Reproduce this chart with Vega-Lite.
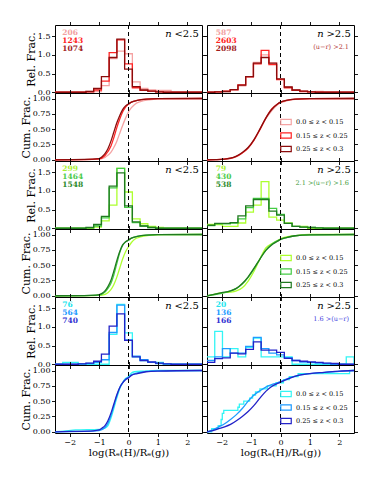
{
"$schema":"https://vega.github.io/schema/vega-lite/v6.json",
"background":"white",
"padding":{"left":19,"top":20,"right":5,"bottom":5},
"config":{
 "view":{"stroke":"black","strokeWidth":1},
 "axis":{"domain":false,"grid":false,"tickColor":"black","tickSize":3.5,"tickWidth":0.9,"labelFont":"DejaVu Serif","labelFontSize":8,"labelColor":"black","labelPadding":1.5,"titleFont":"DejaVu Serif","titleFontSize":11,"titleFontWeight":"normal","titleColor":"black","titlePadding":1},
 "legend":{"orient":"bottom-right","offset":6,"padding":0,"labelFont":"DejaVu Serif","labelFontSize":6.5,"labelColor":"black","symbolType":"M-1,-0.5H1V0.5H-1Z","symbolSize":110,"symbolStrokeWidth":1.2,"symbolFillColor":"transparent","rowPadding":1.5,"labelOffset":4},
 "text":{"font":"DejaVu Serif","baseline":"middle"}
},
"datasets":{
"hist":[
{"x":-2.5,"rL1":0,"rL2":0,"rL3":0,"rR1":0,"rR2":0,"rR3":0,"gL1":0,"gL2":0,"gL3":0,"gR1":0.1,"gR2":0.07,"gR3":0.08,"bL1":0,"bL2":0,"bL3":0,"bR1":0.2,"bR2":0.1,"bR3":0.05},
{"x":-2.2368,"rL1":0,"rL2":0,"rL3":0,"rR1":0.01,"rR2":0.01,"rR3":0.01,"gL1":0,"gL2":0,"gL3":0,"gR1":0.1,"gR2":0.12,"gR3":0.13,"bL1":0.05,"bL2":0,"bL3":0,"bR1":0.88,"bR2":0.2,"bR3":0.15},
{"x":-1.9737,"rL1":0,"rL2":0,"rL3":0,"rR1":0.02,"rR2":0.03,"rR3":0.02,"gL1":0,"gL2":0,"gL3":0,"gR1":0.05,"gR2":0.12,"gR3":0.13,"bL1":0.05,"bL2":0,"bL3":0,"bR1":0.2,"bR2":0.42,"bR3":0.17},
{"x":-1.7105,"rL1":0,"rL2":0,"rL3":0,"rR1":0.06,"rR2":0.07,"rR3":0.07,"gL1":0,"gL2":0,"gL3":0,"gR1":0.05,"gR2":0.14,"gR3":0.15,"bL1":0,"bL2":0.01,"bL3":0.01,"bR1":0.42,"bR2":0.3,"bR3":0.3},
{"x":-1.4474,"rL1":0.02,"rL2":0.01,"rL3":0.02,"rR1":0.17,"rR2":0.2,"rR3":0.19,"gL1":0,"gL2":0.01,"gL3":0.02,"gR1":0.14,"gR2":0.25,"gR3":0.33,"bL1":0,"bL2":0.02,"bL3":0.03,"bR1":0.2,"bR2":0.3,"bR3":0.28},
{"x":-1.1842,"rL1":0.02,"rL2":0.06,"rL3":0.1,"rR1":0.4,"rR2":0.42,"rR3":0.42,"gL1":0.03,"gL2":0.06,"gL3":0.1,"gR1":0.43,"gR2":0.55,"gR3":0.6,"bL1":0,"bL2":0.05,"bL3":0.08,"bR1":0.45,"bR2":0.48,"bR3":0.4},
{"x":-0.9211,"rL1":0.18,"rL2":0.3,"rL3":0.42,"rR1":0.8,"rR2":0.76,"rR3":0.78,"gL1":0.2,"gL2":0.28,"gL3":0.32,"gR1":0.62,"gR2":0.8,"gR3":0.77,"bL1":0,"bL2":0.12,"bL3":0.27,"bR1":0.7,"bR2":0.72,"bR3":0.6},
{"x":-0.6579,"rL1":0.9,"rL2":1.06,"rL3":0.93,"rR1":1.0,"rR2":1.12,"rR3":0.93,"gL1":0.62,"gL2":1.08,"gL3":1.13,"gR1":1.25,"gR2":0.8,"gR3":0.77,"bL1":0.8,"bL2":0.85,"bL3":1.02,"bR1":0.2,"bR2":0.42,"bR3":0.38},
{"x":-0.3947,"rL1":1.1,"rL2":1.4,"rL3":1.42,"rR1":0.78,"rR2":0.74,"rR3":0.78,"gL1":1.6,"gL2":1.6,"gL3":1.48,"gR1":0.3,"gR2":0.53,"gR3":0.46,"bL1":1.6,"bL2":1.58,"bL3":1.35,"bR1":0.2,"bR2":0.3,"bR3":0.38},
{"x":-0.1316,"rL1":1.03,"rL2":0.76,"rL3":0.62,"rR1":0.35,"rR2":0.34,"rR3":0.36,"gL1":0.97,"gL2":0.56,"gL3":0.6,"gR1":0.22,"gR2":0.37,"gR3":0.35,"bL1":0.84,"bL2":0.65,"bL3":0.64,"bR1":0.2,"bR2":0.25,"bR3":0.32},
{"x":0.1316,"rL1":0.28,"rL2":0.12,"rL3":0.15,"rR1":0.14,"rR2":0.12,"rR3":0.14,"gL1":0.25,"gL2":0.15,"gL3":0.17,"gR1":0.14,"gR2":0.13,"gR3":0.13,"bL1":0.2,"bL2":0.22,"bL3":0.2,"bR1":0.2,"bR2":0.18,"bR3":0.16},
{"x":0.3947,"rL1":0.1,"rL2":0.05,"rL3":0.06,"rR1":0.06,"rR2":0.05,"rR3":0.06,"gL1":0.12,"gL2":0.06,"gL3":0.06,"gR1":0.05,"gR2":0.05,"gR3":0.05,"bL1":0.1,"bL2":0.12,"bL3":0.1,"bR1":0,"bR2":0.1,"bR3":0.1},
{"x":0.6579,"rL1":0.06,"rL2":0.03,"rL3":0.03,"rR1":0.03,"rR2":0.02,"rR3":0.03,"gL1":0.05,"gL2":0.02,"gL3":0.02,"gR1":0.05,"gR2":0.03,"gR3":0.03,"bL1":0.05,"bL2":0.05,"bL3":0.06,"bR1":0,"bR2":0.06,"bR3":0.08},
{"x":0.9211,"rL1":0.05,"rL2":0.01,"rL3":0.01,"rR1":0.01,"rR2":0.01,"rR3":0.01,"gL1":0.02,"gL2":0,"gL3":0,"gR1":0,"gR2":0.02,"gR3":0.02,"bL1":0.05,"bL2":0.02,"bL3":0.03,"bR1":0,"bR2":0.05,"bR3":0.06},
{"x":1.1842,"rL1":0.05,"rL2":0,"rL3":0,"rR1":0.02,"rR2":0,"rR3":0,"gL1":0,"gL2":0,"gL3":0,"gR1":0,"gR2":0.01,"gR3":0.01,"bL1":0,"bL2":0.01,"bL3":0.01,"bR1":0,"bR2":0.03,"bR3":0.05},
{"x":1.4474,"rL1":0,"rL2":0,"rL3":0,"rR1":0,"rR2":0,"rR3":0,"gL1":0,"gL2":0,"gL3":0,"gR1":0,"gR2":0,"gR3":0,"bL1":0,"bL2":0,"bL3":0,"bR1":0,"bR2":0.02,"bR3":0.03},
{"x":1.7105,"rL1":0,"rL2":0,"rL3":0,"rR1":0,"rR2":0,"rR3":0,"gL1":0,"gL2":0,"gL3":0,"gR1":0,"gR2":0,"gR3":0,"bL1":0,"bL2":0,"bL3":0,"bR1":0,"bR2":0,"bR3":0.02},
{"x":1.9737,"rL1":0,"rL2":0,"rL3":0,"rR1":0,"rR2":0,"rR3":0,"gL1":0,"gL2":0,"gL3":0,"gR1":0,"gR2":0,"gR3":0,"bL1":0,"bL2":0,"bL3":0,"bR1":0,"bR2":0,"bR3":0},
{"x":2.2368,"rL1":0,"rL2":0,"rL3":0,"rR1":0,"rR2":0,"rR3":0,"gL1":0,"gL2":0,"gL3":0,"gR1":0,"gR2":0,"gR3":0,"bL1":0,"bL2":0,"bL3":0,"bR1":0.2,"bR2":0,"bR3":0},
{"x":2.5,"rL1":0,"rL2":0,"rL3":0,"rR1":0,"rR2":0,"rR3":0,"gL1":0,"gL2":0,"gL3":0,"gR1":0,"gR2":0,"gR3":0,"bL1":0,"bL2":0,"bL3":0,"bR1":0,"bR2":0,"bR3":0}
],
"cum":[
{"p":"rL1","x":-2.5,"c":0},{"p":"rL1","x":-1.5,"c":0.003},{"p":"rL1","x":-1.0,"c":0.01},{"p":"rL1","x":-0.8,"c":0.04},{"p":"rL1","x":-0.6,"c":0.12},{"p":"rL1","x":-0.5,"c":0.2},{"p":"rL1","x":-0.4,"c":0.3},{"p":"rL1","x":-0.3,"c":0.43},{"p":"rL1","x":-0.2,"c":0.56},{"p":"rL1","x":-0.1,"c":0.68},{"p":"rL1","x":0,"c":0.78},{"p":"rL1","x":0.1,"c":0.85},{"p":"rL1","x":0.2,"c":0.9},{"p":"rL1","x":0.4,"c":0.95},{"p":"rL1","x":0.7,"c":0.98},{"p":"rL1","x":1.2,"c":0.995},{"p":"rL1","x":2.5,"c":1},
{"p":"rL2","x":-2.5,"c":0},{"p":"rL2","x":-1.5,"c":0.003},{"p":"rL2","x":-1.0,"c":0.015},{"p":"rL2","x":-0.8,"c":0.07},{"p":"rL2","x":-0.6,"c":0.22},{"p":"rL2","x":-0.5,"c":0.36},{"p":"rL2","x":-0.4,"c":0.52},{"p":"rL2","x":-0.3,"c":0.66},{"p":"rL2","x":-0.2,"c":0.78},{"p":"rL2","x":-0.1,"c":0.86},{"p":"rL2","x":0,"c":0.91},{"p":"rL2","x":0.1,"c":0.94},{"p":"rL2","x":0.3,"c":0.97},{"p":"rL2","x":0.6,"c":0.99},{"p":"rL2","x":1.0,"c":0.997},{"p":"rL2","x":2.5,"c":1},
{"p":"rL3","x":-2.5,"c":0},{"p":"rL3","x":-1.5,"c":0.005},{"p":"rL3","x":-1.0,"c":0.02},{"p":"rL3","x":-0.9,"c":0.05},{"p":"rL3","x":-0.8,"c":0.1},{"p":"rL3","x":-0.7,"c":0.18},{"p":"rL3","x":-0.6,"c":0.3},{"p":"rL3","x":-0.5,"c":0.45},{"p":"rL3","x":-0.4,"c":0.6},{"p":"rL3","x":-0.3,"c":0.72},{"p":"rL3","x":-0.2,"c":0.82},{"p":"rL3","x":-0.1,"c":0.88},{"p":"rL3","x":0,"c":0.91},{"p":"rL3","x":0.1,"c":0.94},{"p":"rL3","x":0.3,"c":0.97},{"p":"rL3","x":0.6,"c":0.99},{"p":"rL3","x":1.0,"c":0.997},{"p":"rL3","x":2.5,"c":1},
{"p":"rR1","x":-2.5,"c":0},{"p":"rR1","x":-2.2,"c":0.003},{"p":"rR1","x":-1.9,"c":0.01},{"p":"rR1","x":-1.7,"c":0.02},{"p":"rR1","x":-1.5,"c":0.05},{"p":"rR1","x":-1.3,"c":0.11},{"p":"rR1","x":-1.1,"c":0.2},{"p":"rR1","x":-0.9,"c":0.33},{"p":"rR1","x":-0.7,"c":0.5},{"p":"rR1","x":-0.5,"c":0.67},{"p":"rR1","x":-0.3,"c":0.8},{"p":"rR1","x":-0.1,"c":0.9},{"p":"rR1","x":0,"c":0.93},{"p":"rR1","x":0.2,"c":0.96},{"p":"rR1","x":0.5,"c":0.985},{"p":"rR1","x":1.0,"c":0.995},{"p":"rR1","x":2.5,"c":1},
{"p":"rR2","x":-2.5,"c":0},{"p":"rR2","x":-2.2,"c":0.003},{"p":"rR2","x":-1.9,"c":0.012},{"p":"rR2","x":-1.7,"c":0.025},{"p":"rR2","x":-1.5,"c":0.055},{"p":"rR2","x":-1.3,"c":0.11},{"p":"rR2","x":-1.1,"c":0.19},{"p":"rR2","x":-0.9,"c":0.32},{"p":"rR2","x":-0.7,"c":0.49},{"p":"rR2","x":-0.5,"c":0.68},{"p":"rR2","x":-0.3,"c":0.83},{"p":"rR2","x":-0.1,"c":0.91},{"p":"rR2","x":0,"c":0.94},{"p":"rR2","x":0.2,"c":0.97},{"p":"rR2","x":0.5,"c":0.99},{"p":"rR2","x":1.0,"c":0.997},{"p":"rR2","x":2.5,"c":1},
{"p":"rR3","x":-2.5,"c":0},{"p":"rR3","x":-2.2,"c":0.003},{"p":"rR3","x":-1.9,"c":0.01},{"p":"rR3","x":-1.7,"c":0.025},{"p":"rR3","x":-1.5,"c":0.06},{"p":"rR3","x":-1.3,"c":0.12},{"p":"rR3","x":-1.1,"c":0.2},{"p":"rR3","x":-0.9,"c":0.33},{"p":"rR3","x":-0.7,"c":0.5},{"p":"rR3","x":-0.5,"c":0.68},{"p":"rR3","x":-0.3,"c":0.82},{"p":"rR3","x":-0.1,"c":0.91},{"p":"rR3","x":0,"c":0.94},{"p":"rR3","x":0.2,"c":0.97},{"p":"rR3","x":0.5,"c":0.99},{"p":"rR3","x":1.0,"c":0.997},{"p":"rR3","x":2.5,"c":1},
{"p":"gL1","x":-2.5,"c":0},{"p":"gL1","x":-1.2,"c":0.003},{"p":"gL1","x":-0.9,"c":0.01},{"p":"gL1","x":-0.7,"c":0.05},{"p":"gL1","x":-0.6,"c":0.1},{"p":"gL1","x":-0.5,"c":0.18},{"p":"gL1","x":-0.4,"c":0.3},{"p":"gL1","x":-0.3,"c":0.45},{"p":"gL1","x":-0.2,"c":0.6},{"p":"gL1","x":-0.1,"c":0.72},{"p":"gL1","x":0,"c":0.8},{"p":"gL1","x":0.1,"c":0.87},{"p":"gL1","x":0.2,"c":0.92},{"p":"gL1","x":0.4,"c":0.96},{"p":"gL1","x":0.7,"c":0.985},{"p":"gL1","x":1.2,"c":0.997},{"p":"gL1","x":2.5,"c":1},
{"p":"gL2","x":-2.5,"c":0},{"p":"gL2","x":-1.5,"c":0.002},{"p":"gL2","x":-1.0,"c":0.01},{"p":"gL2","x":-0.8,"c":0.06},{"p":"gL2","x":-0.7,"c":0.12},{"p":"gL2","x":-0.6,"c":0.2},{"p":"gL2","x":-0.5,"c":0.34},{"p":"gL2","x":-0.4,"c":0.52},{"p":"gL2","x":-0.3,"c":0.7},{"p":"gL2","x":-0.2,"c":0.82},{"p":"gL2","x":-0.1,"c":0.88},{"p":"gL2","x":0,"c":0.91},{"p":"gL2","x":0.1,"c":0.94},{"p":"gL2","x":0.3,"c":0.97},{"p":"gL2","x":0.6,"c":0.99},{"p":"gL2","x":1.0,"c":0.997},{"p":"gL2","x":2.5,"c":1},
{"p":"gL3","x":-2.5,"c":0},{"p":"gL3","x":-1.5,"c":0.003},{"p":"gL3","x":-1.1,"c":0.01},{"p":"gL3","x":-0.9,"c":0.04},{"p":"gL3","x":-0.8,"c":0.08},{"p":"gL3","x":-0.7,"c":0.15},{"p":"gL3","x":-0.6,"c":0.25},{"p":"gL3","x":-0.5,"c":0.4},{"p":"gL3","x":-0.4,"c":0.57},{"p":"gL3","x":-0.3,"c":0.72},{"p":"gL3","x":-0.2,"c":0.83},{"p":"gL3","x":-0.1,"c":0.88},{"p":"gL3","x":0,"c":0.91},{"p":"gL3","x":0.1,"c":0.94},{"p":"gL3","x":0.3,"c":0.97},{"p":"gL3","x":0.6,"c":0.99},{"p":"gL3","x":1.0,"c":0.997},{"p":"gL3","x":2.5,"c":1},
{"p":"gR1","x":-2.5,"c":0},{"p":"gR1","x":-2.3,"c":0.02},{"p":"gR1","x":-2.0,"c":0.05},{"p":"gR1","x":-1.7,"c":0.06},{"p":"gR1","x":-1.5,"c":0.08},{"p":"gR1","x":-1.3,"c":0.13},{"p":"gR1","x":-1.1,"c":0.24},{"p":"gR1","x":-0.9,"c":0.4},{"p":"gR1","x":-0.7,"c":0.6},{"p":"gR1","x":-0.5,"c":0.78},{"p":"gR1","x":-0.3,"c":0.85},{"p":"gR1","x":-0.1,"c":0.9},{"p":"gR1","x":0,"c":0.93},{"p":"gR1","x":0.2,"c":0.96},{"p":"gR1","x":0.5,"c":0.98},{"p":"gR1","x":1.0,"c":1},{"p":"gR1","x":2.5,"c":1},
{"p":"gR2","x":-2.5,"c":0},{"p":"gR2","x":-2.3,"c":0.015},{"p":"gR2","x":-2.0,"c":0.04},{"p":"gR2","x":-1.7,"c":0.08},{"p":"gR2","x":-1.5,"c":0.12},{"p":"gR2","x":-1.3,"c":0.19},{"p":"gR2","x":-1.1,"c":0.3},{"p":"gR2","x":-0.9,"c":0.44},{"p":"gR2","x":-0.7,"c":0.6},{"p":"gR2","x":-0.5,"c":0.74},{"p":"gR2","x":-0.3,"c":0.84},{"p":"gR2","x":-0.1,"c":0.9},{"p":"gR2","x":0,"c":0.92},{"p":"gR2","x":0.2,"c":0.95},{"p":"gR2","x":0.5,"c":0.98},{"p":"gR2","x":1.0,"c":0.995},{"p":"gR2","x":2.5,"c":1},
{"p":"gR3","x":-2.5,"c":0},{"p":"gR3","x":-2.3,"c":0.02},{"p":"gR3","x":-2.0,"c":0.05},{"p":"gR3","x":-1.7,"c":0.08},{"p":"gR3","x":-1.5,"c":0.12},{"p":"gR3","x":-1.3,"c":0.2},{"p":"gR3","x":-1.1,"c":0.31},{"p":"gR3","x":-0.9,"c":0.45},{"p":"gR3","x":-0.7,"c":0.6},{"p":"gR3","x":-0.5,"c":0.74},{"p":"gR3","x":-0.3,"c":0.83},{"p":"gR3","x":-0.1,"c":0.89},{"p":"gR3","x":0,"c":0.92},{"p":"gR3","x":0.2,"c":0.95},{"p":"gR3","x":0.5,"c":0.98},{"p":"gR3","x":1.0,"c":0.995},{"p":"gR3","x":2.5,"c":1},
{"p":"bL1","x":-2.5,"c":0},{"p":"bL1","x":-2.2,"c":0.01},{"p":"bL1","x":-1.8,"c":0.03},{"p":"bL1","x":-1.0,"c":0.04},{"p":"bL1","x":-0.8,"c":0.06},{"p":"bL1","x":-0.7,"c":0.1},{"p":"bL1","x":-0.6,"c":0.22},{"p":"bL1","x":-0.5,"c":0.38},{"p":"bL1","x":-0.4,"c":0.55},{"p":"bL1","x":-0.3,"c":0.7},{"p":"bL1","x":-0.2,"c":0.8},{"p":"bL1","x":-0.1,"c":0.87},{"p":"bL1","x":0,"c":0.9},{"p":"bL1","x":0.1,"c":0.96},{"p":"bL1","x":0.2,"c":0.98},{"p":"bL1","x":0.5,"c":0.99},{"p":"bL1","x":1.0,"c":1},{"p":"bL1","x":2.5,"c":1},
{"p":"bL2","x":-2.5,"c":0},{"p":"bL2","x":-1.5,"c":0.005},{"p":"bL2","x":-1.0,"c":0.02},{"p":"bL2","x":-0.8,"c":0.07},{"p":"bL2","x":-0.7,"c":0.14},{"p":"bL2","x":-0.6,"c":0.26},{"p":"bL2","x":-0.5,"c":0.42},{"p":"bL2","x":-0.4,"c":0.58},{"p":"bL2","x":-0.3,"c":0.72},{"p":"bL2","x":-0.2,"c":0.8},{"p":"bL2","x":-0.1,"c":0.86},{"p":"bL2","x":0,"c":0.89},{"p":"bL2","x":0.1,"c":0.93},{"p":"bL2","x":0.3,"c":0.96},{"p":"bL2","x":0.6,"c":0.985},{"p":"bL2","x":1.0,"c":0.995},{"p":"bL2","x":2.5,"c":1},
{"p":"bL3","x":-2.5,"c":0},{"p":"bL3","x":-2.0,"c":0.005},{"p":"bL3","x":-1.2,"c":0.015},{"p":"bL3","x":-1.0,"c":0.03},{"p":"bL3","x":-0.9,"c":0.06},{"p":"bL3","x":-0.8,"c":0.1},{"p":"bL3","x":-0.7,"c":0.18},{"p":"bL3","x":-0.6,"c":0.3},{"p":"bL3","x":-0.5,"c":0.45},{"p":"bL3","x":-0.4,"c":0.6},{"p":"bL3","x":-0.3,"c":0.72},{"p":"bL3","x":-0.2,"c":0.8},{"p":"bL3","x":-0.1,"c":0.85},{"p":"bL3","x":0,"c":0.88},{"p":"bL3","x":0.1,"c":0.92},{"p":"bL3","x":0.3,"c":0.95},{"p":"bL3","x":0.6,"c":0.98},{"p":"bL3","x":1.0,"c":0.99},{"p":"bL3","x":2.5,"c":1},
{"p":"bR1","x":-2.5,"c":0},{"p":"bR1","x":-2.34,"c":0.05},{"p":"bR1","x":-2.12,"c":0.1},{"p":"bR1","x":-2.02,"c":0.2},{"p":"bR1","x":-1.98,"c":0.3},{"p":"bR1","x":-1.93,"c":0.35},{"p":"bR1","x":-1.45,"c":0.4},{"p":"bR1","x":-1.4,"c":0.45},{"p":"bR1","x":-1.25,"c":0.5},{"p":"bR1","x":-1.05,"c":0.55},{"p":"bR1","x":-0.95,"c":0.6},{"p":"bR1","x":-0.85,"c":0.65},{"p":"bR1","x":-0.7,"c":0.7},{"p":"bR1","x":-0.45,"c":0.75},{"p":"bR1","x":-0.15,"c":0.8},{"p":"bR1","x":0.1,"c":0.85},{"p":"bR1","x":0.3,"c":0.9},{"p":"bR1","x":0.6,"c":0.95},{"p":"bR1","x":2.35,"c":1},{"p":"bR1","x":2.5,"c":1},
{"p":"bR2","x":-2.5,"c":0},{"p":"bR2","x":-2.3,"c":0.03},{"p":"bR2","x":-2.1,"c":0.08},{"p":"bR2","x":-1.9,"c":0.13},{"p":"bR2","x":-1.7,"c":0.2},{"p":"bR2","x":-1.5,"c":0.28},{"p":"bR2","x":-1.3,"c":0.38},{"p":"bR2","x":-1.1,"c":0.5},{"p":"bR2","x":-0.9,"c":0.6},{"p":"bR2","x":-0.7,"c":0.67},{"p":"bR2","x":-0.5,"c":0.73},{"p":"bR2","x":-0.3,"c":0.77},{"p":"bR2","x":-0.1,"c":0.8},{"p":"bR2","x":0,"c":0.82},{"p":"bR2","x":0.3,"c":0.88},{"p":"bR2","x":0.6,"c":0.92},{"p":"bR2","x":1.0,"c":0.95},{"p":"bR2","x":1.5,"c":0.97},{"p":"bR2","x":2.0,"c":0.985},{"p":"bR2","x":2.5,"c":1},
{"p":"bR3","x":-2.5,"c":0},{"p":"bR3","x":-2.3,"c":0.02},{"p":"bR3","x":-2.1,"c":0.05},{"p":"bR3","x":-1.9,"c":0.08},{"p":"bR3","x":-1.7,"c":0.12},{"p":"bR3","x":-1.5,"c":0.18},{"p":"bR3","x":-1.3,"c":0.25},{"p":"bR3","x":-1.1,"c":0.33},{"p":"bR3","x":-0.9,"c":0.43},{"p":"bR3","x":-0.7,"c":0.55},{"p":"bR3","x":-0.5,"c":0.66},{"p":"bR3","x":-0.3,"c":0.74},{"p":"bR3","x":-0.1,"c":0.79},{"p":"bR3","x":0,"c":0.81},{"p":"bR3","x":0.3,"c":0.87},{"p":"bR3","x":0.6,"c":0.92},{"p":"bR3","x":1.0,"c":0.95},{"p":"bR3","x":1.5,"c":0.97},{"p":"bR3","x":2.0,"c":0.99},{"p":"bR3","x":2.5,"c":1}
]
},
"spacing":-8,
"resolve":{"scale":{"stroke":"independent"}},
"hconcat":[
{"vconcat":[
 {"width":147,"height":68,"resolve":{"axis":{"x":"independent","y":"independent"}},"layer":[
  {"data":{"name":"hist"},"transform":[{"fold":["rL1","rL2","rL3"],"as":["s","h"]}],"mark":{"type":"line","interpolate":"step-after","strokeWidth":1.3},"encoding":{"x":{"field":"x","type":"quantitative","scale":{"domain":[-2.5,2.5],"nice":false,"zero":false},"axis":{"orient":"bottom","values":[-2,-1,0,1,2],"labels":false,"title":null}},"y":{"field":"h","type":"quantitative","scale":{"domain":[-0.02,1.8],"nice":false,"zero":false},"axis":{"orient":"left","values":[0,0.5,1,1.5],"format":".1f","title":"Rel. Frac."}},"stroke":{"field":"s","type":"nominal","scale":{"domain":["rL1","rL2","rL3"],"range":["#f5a3a3","#ff2424","#8b0c0c"]},"legend":null}}},
  {"data":{"values":[{}]},"mark":{"type":"rule","color":"black","strokeDash":[4,3],"strokeWidth":1},"encoding":{"x":{"datum":0,"axis":null}}},
  {"data":{"values":[{}]},"mark":{"type":"point","opacity":0},"encoding":{"x":{"datum":0,"axis":{"orient":"top","values":[-2,-1,0,1,2],"labels":false,"title":null}},"y":{"datum":0.5,"axis":{"orient":"right","values":[0,0.5,1,1.5],"labels":false,"title":null}}}},
  {"data":{"values":[{}]},"mark":{"type":"text","text":"206","color":"#f2a0a0","fontSize":7.5,"fontWeight":"bold","align":"left"},"encoding":{"x":{"datum":-2.25,"axis":null},"y":{"datum":1.586,"axis":null}}},
  {"data":{"values":[{}]},"mark":{"type":"text","text":"1243","color":"#ff2020","fontSize":7.5,"fontWeight":"bold","align":"left"},"encoding":{"x":{"datum":-2.25,"axis":null},"y":{"datum":1.372,"axis":null}}},
  {"data":{"values":[{}]},"mark":{"type":"text","text":"1074","color":"#a01c1c","fontSize":7.5,"fontWeight":"bold","align":"left"},"encoding":{"x":{"datum":-2.25,"axis":null},"y":{"datum":1.166,"axis":null}}},
  {"data":{"values":[{}]},"mark":{"type":"text","text":"<2.5","color":"black","fontSize":10,"align":"right"},"encoding":{"x":{"datum":2.39,"axis":null},"y":{"datum":1.546,"axis":null}}},
  {"data":{"values":[{}]},"mark":{"type":"text","text":"n","color":"black","fontSize":10,"fontStyle":"italic","align":"right","dx":-27},"encoding":{"x":{"datum":2.39,"axis":null},"y":{"datum":1.546,"axis":null}}}
 ]},
 {"width":147,"height":68,"resolve":{"axis":{"x":"independent","y":"independent"}},"layer":[
  {"data":{"name":"cum"},"transform":[{"filter":{"field":"p","oneOf":["rL1","rL2","rL3"]}}],"mark":{"type":"line","interpolate":"monotone","strokeWidth":1.3},"encoding":{"x":{"field":"x","type":"quantitative","scale":{"domain":[-2.5,2.5],"nice":false,"zero":false},"axis":{"orient":"bottom","values":[-2,-1,0,1,2],"labels":false,"title":null}},"y":{"field":"c","type":"quantitative","scale":{"domain":[-0.02,1.09],"nice":false,"zero":false},"axis":{"orient":"left","values":[0,0.25,0.5,0.75,1],"format":".2f","title":"Cum. Frac."}},"stroke":{"field":"p","type":"nominal","scale":{"domain":["rL1","rL2","rL3"],"range":["#f5a3a3","#ff2424","#8b0c0c"]},"legend":null}}},
  {"data":{"values":[{}]},"mark":{"type":"rule","color":"black","strokeDash":[4,3],"strokeWidth":1},"encoding":{"x":{"datum":0,"axis":null}}},
  {"data":{"values":[{}]},"mark":{"type":"point","opacity":0},"encoding":{"x":{"datum":0,"axis":{"orient":"top","values":[-2,-1,0,1,2],"labels":false,"title":null}},"y":{"datum":0.5,"axis":{"orient":"right","values":[0,0.25,0.5,0.75,1],"labels":false,"title":null}}}}
 ]},
 {"width":147,"height":68,"resolve":{"axis":{"x":"independent","y":"independent"}},"layer":[
  {"data":{"name":"hist"},"transform":[{"fold":["gL1","gL2","gL3"],"as":["s","h"]}],"mark":{"type":"line","interpolate":"step-after","strokeWidth":1.3},"encoding":{"x":{"field":"x","type":"quantitative","scale":{"domain":[-2.5,2.5],"nice":false,"zero":false},"axis":{"orient":"bottom","values":[-2,-1,0,1,2],"labels":false,"title":null}},"y":{"field":"h","type":"quantitative","scale":{"domain":[-0.02,1.8],"nice":false,"zero":false},"axis":{"orient":"left","values":[0,0.5,1,1.5],"format":".1f","title":"Rel. Frac."}},"stroke":{"field":"s","type":"nominal","scale":{"domain":["gL1","gL2","gL3"],"range":["#adff2f","#44cc44","#207a20"]},"legend":null}}},
  {"data":{"values":[{}]},"mark":{"type":"rule","color":"black","strokeDash":[4,3],"strokeWidth":1},"encoding":{"x":{"datum":0,"axis":null}}},
  {"data":{"values":[{}]},"mark":{"type":"point","opacity":0},"encoding":{"x":{"datum":0,"axis":{"orient":"top","values":[-2,-1,0,1,2],"labels":false,"title":null}},"y":{"datum":0.5,"axis":{"orient":"right","values":[0,0.5,1,1.5],"labels":false,"title":null}}}},
  {"data":{"values":[{}]},"mark":{"type":"text","text":"299","color":"#a8f030","fontSize":7.5,"fontWeight":"bold","align":"left"},"encoding":{"x":{"datum":-2.25,"axis":null},"y":{"datum":1.586,"axis":null}}},
  {"data":{"values":[{}]},"mark":{"type":"text","text":"1464","color":"#4acb4a","fontSize":7.5,"fontWeight":"bold","align":"left"},"encoding":{"x":{"datum":-2.25,"axis":null},"y":{"datum":1.372,"axis":null}}},
  {"data":{"values":[{}]},"mark":{"type":"text","text":"1548","color":"#2a8a2a","fontSize":7.5,"fontWeight":"bold","align":"left"},"encoding":{"x":{"datum":-2.25,"axis":null},"y":{"datum":1.166,"axis":null}}},
  {"data":{"values":[{}]},"mark":{"type":"text","text":"<2.5","color":"black","fontSize":10,"align":"right"},"encoding":{"x":{"datum":2.39,"axis":null},"y":{"datum":1.546,"axis":null}}},
  {"data":{"values":[{}]},"mark":{"type":"text","text":"n","color":"black","fontSize":10,"fontStyle":"italic","align":"right","dx":-27},"encoding":{"x":{"datum":2.39,"axis":null},"y":{"datum":1.546,"axis":null}}}
 ]},
 {"width":147,"height":68,"resolve":{"axis":{"x":"independent","y":"independent"}},"layer":[
  {"data":{"name":"cum"},"transform":[{"filter":{"field":"p","oneOf":["gL1","gL2","gL3"]}}],"mark":{"type":"line","interpolate":"monotone","strokeWidth":1.3},"encoding":{"x":{"field":"x","type":"quantitative","scale":{"domain":[-2.5,2.5],"nice":false,"zero":false},"axis":{"orient":"bottom","values":[-2,-1,0,1,2],"labels":false,"title":null}},"y":{"field":"c","type":"quantitative","scale":{"domain":[-0.02,1.09],"nice":false,"zero":false},"axis":{"orient":"left","values":[0,0.25,0.5,0.75,1],"format":".2f","title":"Cum. Frac."}},"stroke":{"field":"p","type":"nominal","scale":{"domain":["gL1","gL2","gL3"],"range":["#adff2f","#44cc44","#207a20"]},"legend":null}}},
  {"data":{"values":[{}]},"mark":{"type":"rule","color":"black","strokeDash":[4,3],"strokeWidth":1},"encoding":{"x":{"datum":0,"axis":null}}},
  {"data":{"values":[{}]},"mark":{"type":"point","opacity":0},"encoding":{"x":{"datum":0,"axis":{"orient":"top","values":[-2,-1,0,1,2],"labels":false,"title":null}},"y":{"datum":0.5,"axis":{"orient":"right","values":[0,0.25,0.5,0.75,1],"labels":false,"title":null}}}}
 ]},
 {"width":147,"height":68,"resolve":{"axis":{"x":"independent","y":"independent"}},"layer":[
  {"data":{"name":"hist"},"transform":[{"fold":["bL1","bL2","bL3"],"as":["s","h"]}],"mark":{"type":"line","interpolate":"step-after","strokeWidth":1.3},"encoding":{"x":{"field":"x","type":"quantitative","scale":{"domain":[-2.5,2.5],"nice":false,"zero":false},"axis":{"orient":"bottom","values":[-2,-1,0,1,2],"labels":false,"title":null}},"y":{"field":"h","type":"quantitative","scale":{"domain":[-0.02,1.8],"nice":false,"zero":false},"axis":{"orient":"left","values":[0,0.5,1,1.5],"format":".1f","title":"Rel. Frac."}},"stroke":{"field":"s","type":"nominal","scale":{"domain":["bL1","bL2","bL3"],"range":["#33f5f5","#1e9bff","#2222c8"]},"legend":null}}},
  {"data":{"values":[{}]},"mark":{"type":"rule","color":"black","strokeDash":[4,3],"strokeWidth":1},"encoding":{"x":{"datum":0,"axis":null}}},
  {"data":{"values":[{}]},"mark":{"type":"point","opacity":0},"encoding":{"x":{"datum":0,"axis":{"orient":"top","values":[-2,-1,0,1,2],"labels":false,"title":null}},"y":{"datum":0.5,"axis":{"orient":"right","values":[0,0.5,1,1.5],"labels":false,"title":null}}}},
  {"data":{"values":[{}]},"mark":{"type":"text","text":"76","color":"#22e5ee","fontSize":7.5,"fontWeight":"bold","align":"left"},"encoding":{"x":{"datum":-2.25,"axis":null},"y":{"datum":1.586,"axis":null}}},
  {"data":{"values":[{}]},"mark":{"type":"text","text":"564","color":"#1e9bff","fontSize":7.5,"fontWeight":"bold","align":"left"},"encoding":{"x":{"datum":-2.25,"axis":null},"y":{"datum":1.372,"axis":null}}},
  {"data":{"values":[{}]},"mark":{"type":"text","text":"740","color":"#3232d2","fontSize":7.5,"fontWeight":"bold","align":"left"},"encoding":{"x":{"datum":-2.25,"axis":null},"y":{"datum":1.166,"axis":null}}},
  {"data":{"values":[{}]},"mark":{"type":"text","text":"<2.5","color":"black","fontSize":10,"align":"right"},"encoding":{"x":{"datum":2.39,"axis":null},"y":{"datum":1.546,"axis":null}}},
  {"data":{"values":[{}]},"mark":{"type":"text","text":"n","color":"black","fontSize":10,"fontStyle":"italic","align":"right","dx":-27},"encoding":{"x":{"datum":2.39,"axis":null},"y":{"datum":1.546,"axis":null}}}
 ]},
 {"width":147,"height":68,"resolve":{"axis":{"x":"independent","y":"independent"}},"layer":[
  {"data":{"name":"cum"},"transform":[{"filter":{"field":"p","oneOf":["bL1","bL2","bL3"]}}],"mark":{"type":"line","interpolate":"monotone","strokeWidth":1.3},"encoding":{"x":{"field":"x","type":"quantitative","scale":{"domain":[-2.5,2.5],"nice":false,"zero":false},"axis":{"orient":"bottom","values":[-2,-1,0,1,2],"title":"log(Rₑ(H)/Rₑ(g))","titleFontSize":10,"titlePadding":1}},"y":{"field":"c","type":"quantitative","scale":{"domain":[-0.02,1.09],"nice":false,"zero":false},"axis":{"orient":"left","values":[0,0.25,0.5,0.75,1],"format":".2f","title":"Cum. Frac."}},"stroke":{"field":"p","type":"nominal","scale":{"domain":["bL1","bL2","bL3"],"range":["#33f5f5","#1e9bff","#2222c8"]},"legend":null}}},
  {"data":{"values":[{}]},"mark":{"type":"rule","color":"black","strokeDash":[4,3],"strokeWidth":1},"encoding":{"x":{"datum":0,"axis":null}}},
  {"data":{"values":[{}]},"mark":{"type":"point","opacity":0},"encoding":{"x":{"datum":0,"axis":{"orient":"top","values":[-2,-1,0,1,2],"labels":false,"title":null}},"y":{"datum":0.5,"axis":{"orient":"right","values":[0,0.25,0.5,0.75,1],"labels":false,"title":null}}}}
 ]}
],"spacing":0,"bounds":"flush","resolve":{"scale":{"stroke":"independent"}}},
{"vconcat":[
 {"width":147,"height":68,"resolve":{"axis":{"x":"independent","y":"independent"}},"layer":[
  {"data":{"name":"hist"},"transform":[{"fold":["rR1","rR2","rR3"],"as":["s","h"]}],"mark":{"type":"line","interpolate":"step-after","strokeWidth":1.3},"encoding":{"x":{"field":"x","type":"quantitative","scale":{"domain":[-2.5,2.5],"nice":false,"zero":false},"axis":{"orient":"bottom","values":[-2,-1,0,1,2],"labels":false,"title":null}},"y":{"field":"h","type":"quantitative","scale":{"domain":[-0.02,1.8],"nice":false,"zero":false},"axis":{"orient":"left","values":[0,0.5,1,1.5],"labels":false,"title":null}},"stroke":{"field":"s","type":"nominal","scale":{"domain":["rR1","rR2","rR3"],"range":["#f5a3a3","#ff2424","#8b0c0c"]},"legend":null}}},
  {"data":{"values":[{}]},"mark":{"type":"rule","color":"black","strokeDash":[4,3],"strokeWidth":1},"encoding":{"x":{"datum":0,"axis":null}}},
  {"data":{"values":[{}]},"mark":{"type":"point","opacity":0},"encoding":{"x":{"datum":0,"axis":{"orient":"top","values":[-2,-1,0,1,2],"labels":false,"title":null}},"y":{"datum":0.5,"axis":{"orient":"right","values":[0,0.5,1,1.5],"labels":false,"title":null}}}},
  {"data":{"values":[{}]},"mark":{"type":"text","text":"587","color":"#f2a0a0","fontSize":7.5,"fontWeight":"bold","align":"left"},"encoding":{"x":{"datum":-2.2,"axis":null},"y":{"datum":1.586,"axis":null}}},
  {"data":{"values":[{}]},"mark":{"type":"text","text":"2603","color":"#ff2020","fontSize":7.5,"fontWeight":"bold","align":"left"},"encoding":{"x":{"datum":-2.2,"axis":null},"y":{"datum":1.372,"axis":null}}},
  {"data":{"values":[{}]},"mark":{"type":"text","text":"2098","color":"#a01c1c","fontSize":7.5,"fontWeight":"bold","align":"left"},"encoding":{"x":{"datum":-2.2,"axis":null},"y":{"datum":1.166,"axis":null}}},
  {"data":{"values":[{}]},"mark":{"type":"text","text":">2.5","color":"black","fontSize":10,"align":"right"},"encoding":{"x":{"datum":2.39,"axis":null},"y":{"datum":1.546,"axis":null}}},
  {"data":{"values":[{}]},"mark":{"type":"text","text":"n","color":"black","fontSize":10,"fontStyle":"italic","align":"right","dx":-27},"encoding":{"x":{"datum":2.39,"axis":null},"y":{"datum":1.546,"axis":null}}},
  {"data":{"values":[{}]},"mark":{"type":"text","text":"(u−r) >2.1","color":"#b03030","fontSize":6.5,"align":"right"},"encoding":{"x":{"datum":2.33,"axis":null},"y":{"datum":1.22,"axis":null}}}
 ]},
 {"width":147,"height":68,"resolve":{"axis":{"x":"independent","y":"independent"}},"layer":[
  {"data":{"name":"cum"},"transform":[{"filter":{"field":"p","oneOf":["rR1","rR2","rR3"]}}],"mark":{"type":"line","interpolate":"monotone","strokeWidth":1.3},"encoding":{"x":{"field":"x","type":"quantitative","scale":{"domain":[-2.5,2.5],"nice":false,"zero":false},"axis":{"orient":"bottom","values":[-2,-1,0,1,2],"labels":false,"title":null}},"y":{"field":"c","type":"quantitative","scale":{"domain":[-0.02,1.09],"nice":false,"zero":false},"axis":{"orient":"left","values":[0,0.25,0.5,0.75,1],"labels":false,"title":null}},"stroke":{"field":"p","type":"nominal","scale":{"domain":["rR1","rR2","rR3"],"range":["#f5a3a3","#ff2424","#8b0c0c"]},"legend":{"title":null,"labelExpr":"slice(datum.label,-1)=='1' ? '0.0 ≤ z < 0.15' : slice(datum.label,-1)=='2' ? '0.15 ≤ z < 0.25' : '0.25 ≤ z < 0.3'"}}}},
  {"data":{"values":[{}]},"mark":{"type":"rule","color":"black","strokeDash":[4,3],"strokeWidth":1},"encoding":{"x":{"datum":0,"axis":null}}},
  {"data":{"values":[{}]},"mark":{"type":"point","opacity":0},"encoding":{"x":{"datum":0,"axis":{"orient":"top","values":[-2,-1,0,1,2],"labels":false,"title":null}},"y":{"datum":0.5,"axis":{"orient":"right","values":[0,0.25,0.5,0.75,1],"labels":false,"title":null}}}}
 ]},
 {"width":147,"height":68,"resolve":{"axis":{"x":"independent","y":"independent"}},"layer":[
  {"data":{"name":"hist"},"transform":[{"fold":["gR1","gR2","gR3"],"as":["s","h"]}],"mark":{"type":"line","interpolate":"step-after","strokeWidth":1.3},"encoding":{"x":{"field":"x","type":"quantitative","scale":{"domain":[-2.5,2.5],"nice":false,"zero":false},"axis":{"orient":"bottom","values":[-2,-1,0,1,2],"labels":false,"title":null}},"y":{"field":"h","type":"quantitative","scale":{"domain":[-0.02,1.8],"nice":false,"zero":false},"axis":{"orient":"left","values":[0,0.5,1,1.5],"labels":false,"title":null}},"stroke":{"field":"s","type":"nominal","scale":{"domain":["gR1","gR2","gR3"],"range":["#adff2f","#44cc44","#207a20"]},"legend":null}}},
  {"data":{"values":[{}]},"mark":{"type":"rule","color":"black","strokeDash":[4,3],"strokeWidth":1},"encoding":{"x":{"datum":0,"axis":null}}},
  {"data":{"values":[{}]},"mark":{"type":"point","opacity":0},"encoding":{"x":{"datum":0,"axis":{"orient":"top","values":[-2,-1,0,1,2],"labels":false,"title":null}},"y":{"datum":0.5,"axis":{"orient":"right","values":[0,0.5,1,1.5],"labels":false,"title":null}}}},
  {"data":{"values":[{}]},"mark":{"type":"text","text":"79","color":"#a8f030","fontSize":7.5,"fontWeight":"bold","align":"left"},"encoding":{"x":{"datum":-2.2,"axis":null},"y":{"datum":1.586,"axis":null}}},
  {"data":{"values":[{}]},"mark":{"type":"text","text":"430","color":"#4acb4a","fontSize":7.5,"fontWeight":"bold","align":"left"},"encoding":{"x":{"datum":-2.2,"axis":null},"y":{"datum":1.372,"axis":null}}},
  {"data":{"values":[{}]},"mark":{"type":"text","text":"538","color":"#2a8a2a","fontSize":7.5,"fontWeight":"bold","align":"left"},"encoding":{"x":{"datum":-2.2,"axis":null},"y":{"datum":1.166,"axis":null}}},
  {"data":{"values":[{}]},"mark":{"type":"text","text":">2.5","color":"black","fontSize":10,"align":"right"},"encoding":{"x":{"datum":2.39,"axis":null},"y":{"datum":1.546,"axis":null}}},
  {"data":{"values":[{}]},"mark":{"type":"text","text":"n","color":"black","fontSize":10,"fontStyle":"italic","align":"right","dx":-27},"encoding":{"x":{"datum":2.39,"axis":null},"y":{"datum":1.546,"axis":null}}},
  {"data":{"values":[{}]},"mark":{"type":"text","text":"2.1 >(u−r) >1.6","color":"#3a9a3a","fontSize":6.5,"align":"right"},"encoding":{"x":{"datum":2.33,"axis":null},"y":{"datum":1.22,"axis":null}}}
 ]},
 {"width":147,"height":68,"resolve":{"axis":{"x":"independent","y":"independent"}},"layer":[
  {"data":{"name":"cum"},"transform":[{"filter":{"field":"p","oneOf":["gR1","gR2","gR3"]}}],"mark":{"type":"line","interpolate":"monotone","strokeWidth":1.3},"encoding":{"x":{"field":"x","type":"quantitative","scale":{"domain":[-2.5,2.5],"nice":false,"zero":false},"axis":{"orient":"bottom","values":[-2,-1,0,1,2],"labels":false,"title":null}},"y":{"field":"c","type":"quantitative","scale":{"domain":[-0.02,1.09],"nice":false,"zero":false},"axis":{"orient":"left","values":[0,0.25,0.5,0.75,1],"labels":false,"title":null}},"stroke":{"field":"p","type":"nominal","scale":{"domain":["gR1","gR2","gR3"],"range":["#adff2f","#44cc44","#207a20"]},"legend":{"title":null,"labelExpr":"slice(datum.label,-1)=='1' ? '0.0 ≤ z < 0.15' : slice(datum.label,-1)=='2' ? '0.15 ≤ z < 0.25' : '0.25 ≤ z < 0.3'"}}}},
  {"data":{"values":[{}]},"mark":{"type":"rule","color":"black","strokeDash":[4,3],"strokeWidth":1},"encoding":{"x":{"datum":0,"axis":null}}},
  {"data":{"values":[{}]},"mark":{"type":"point","opacity":0},"encoding":{"x":{"datum":0,"axis":{"orient":"top","values":[-2,-1,0,1,2],"labels":false,"title":null}},"y":{"datum":0.5,"axis":{"orient":"right","values":[0,0.25,0.5,0.75,1],"labels":false,"title":null}}}}
 ]},
 {"width":147,"height":68,"resolve":{"axis":{"x":"independent","y":"independent"}},"layer":[
  {"data":{"name":"hist"},"transform":[{"fold":["bR1","bR2","bR3"],"as":["s","h"]}],"mark":{"type":"line","interpolate":"step-after","strokeWidth":1.3,"clip":true},"encoding":{"x":{"field":"x","type":"quantitative","scale":{"domain":[-2.5,2.5],"nice":false,"zero":false},"axis":{"orient":"bottom","values":[-2,-1,0,1,2],"labels":false,"title":null}},"y":{"field":"h","type":"quantitative","scale":{"domain":[-0.02,1.8],"nice":false,"zero":false},"axis":{"orient":"left","values":[0,0.5,1,1.5],"labels":false,"title":null}},"stroke":{"field":"s","type":"nominal","scale":{"domain":["bR1","bR2","bR3"],"range":["#33f5f5","#1e9bff","#2222c8"]},"legend":null}}},
  {"data":{"values":[{}]},"mark":{"type":"rule","color":"black","strokeDash":[4,3],"strokeWidth":1},"encoding":{"x":{"datum":0,"axis":null}}},
  {"data":{"values":[{}]},"mark":{"type":"point","opacity":0},"encoding":{"x":{"datum":0,"axis":{"orient":"top","values":[-2,-1,0,1,2],"labels":false,"title":null}},"y":{"datum":0.5,"axis":{"orient":"right","values":[0,0.5,1,1.5],"labels":false,"title":null}}}},
  {"data":{"values":[{}]},"mark":{"type":"text","text":"20","color":"#22e5ee","fontSize":7.5,"fontWeight":"bold","align":"left"},"encoding":{"x":{"datum":-2.2,"axis":null},"y":{"datum":1.586,"axis":null}}},
  {"data":{"values":[{}]},"mark":{"type":"text","text":"136","color":"#1e9bff","fontSize":7.5,"fontWeight":"bold","align":"left"},"encoding":{"x":{"datum":-2.2,"axis":null},"y":{"datum":1.372,"axis":null}}},
  {"data":{"values":[{}]},"mark":{"type":"text","text":"166","color":"#3232d2","fontSize":7.5,"fontWeight":"bold","align":"left"},"encoding":{"x":{"datum":-2.2,"axis":null},"y":{"datum":1.166,"axis":null}}},
  {"data":{"values":[{}]},"mark":{"type":"text","text":">2.5","color":"black","fontSize":10,"align":"right"},"encoding":{"x":{"datum":2.39,"axis":null},"y":{"datum":1.546,"axis":null}}},
  {"data":{"values":[{}]},"mark":{"type":"text","text":"n","color":"black","fontSize":10,"fontStyle":"italic","align":"right","dx":-27},"encoding":{"x":{"datum":2.39,"axis":null},"y":{"datum":1.546,"axis":null}}},
  {"data":{"values":[{}]},"mark":{"type":"text","text":"1.6 >(u−r)","color":"#4040e0","fontSize":6.5,"align":"right"},"encoding":{"x":{"datum":2.33,"axis":null},"y":{"datum":1.22,"axis":null}}}
 ]},
 {"width":147,"height":68,"resolve":{"axis":{"x":"independent","y":"independent"}},"layer":[
  {"data":{"name":"cum"},"transform":[{"filter":{"field":"p","equal":"bR1"}}],"mark":{"type":"line","interpolate":"step-after","strokeWidth":1.3,"stroke":"#33f5f5"},"encoding":{"x":{"field":"x","type":"quantitative","axis":null},"y":{"field":"c","type":"quantitative","axis":null}}},
  {"data":{"name":"cum"},"transform":[{"filter":{"field":"p","oneOf":["bR2","bR3"]}}],"mark":{"type":"line","interpolate":"monotone","strokeWidth":1.3},"encoding":{"x":{"field":"x","type":"quantitative","scale":{"domain":[-2.5,2.5],"nice":false,"zero":false},"axis":{"orient":"bottom","values":[-2,-1,0,1,2],"title":"log(Rₑ(H)/Rₑ(g))","titleFontSize":10,"titlePadding":1}},"y":{"field":"c","type":"quantitative","scale":{"domain":[-0.02,1.09],"nice":false,"zero":false},"axis":{"orient":"left","values":[0,0.25,0.5,0.75,1],"labels":false,"title":null}},"stroke":{"field":"p","type":"nominal","scale":{"domain":["bR1","bR2","bR3"],"range":["#33f5f5","#1e9bff","#2222c8"]},"legend":{"title":null,"labelExpr":"slice(datum.label,-1)=='1' ? '0.0 ≤ z < 0.15' : slice(datum.label,-1)=='2' ? '0.15 ≤ z < 0.25' : '0.25 ≤ z < 0.3'"}}}},
  {"data":{"values":[{}]},"mark":{"type":"rule","color":"black","strokeDash":[4,3],"strokeWidth":1},"encoding":{"x":{"datum":0,"axis":null}}},
  {"data":{"values":[{}]},"mark":{"type":"point","opacity":0},"encoding":{"x":{"datum":0,"axis":{"orient":"top","values":[-2,-1,0,1,2],"labels":false,"title":null}},"y":{"datum":0.5,"axis":{"orient":"right","values":[0,0.25,0.5,0.75,1],"labels":false,"title":null}}}}
 ]}
],"spacing":0,"bounds":"flush","resolve":{"scale":{"stroke":"independent"}}}
]
}
